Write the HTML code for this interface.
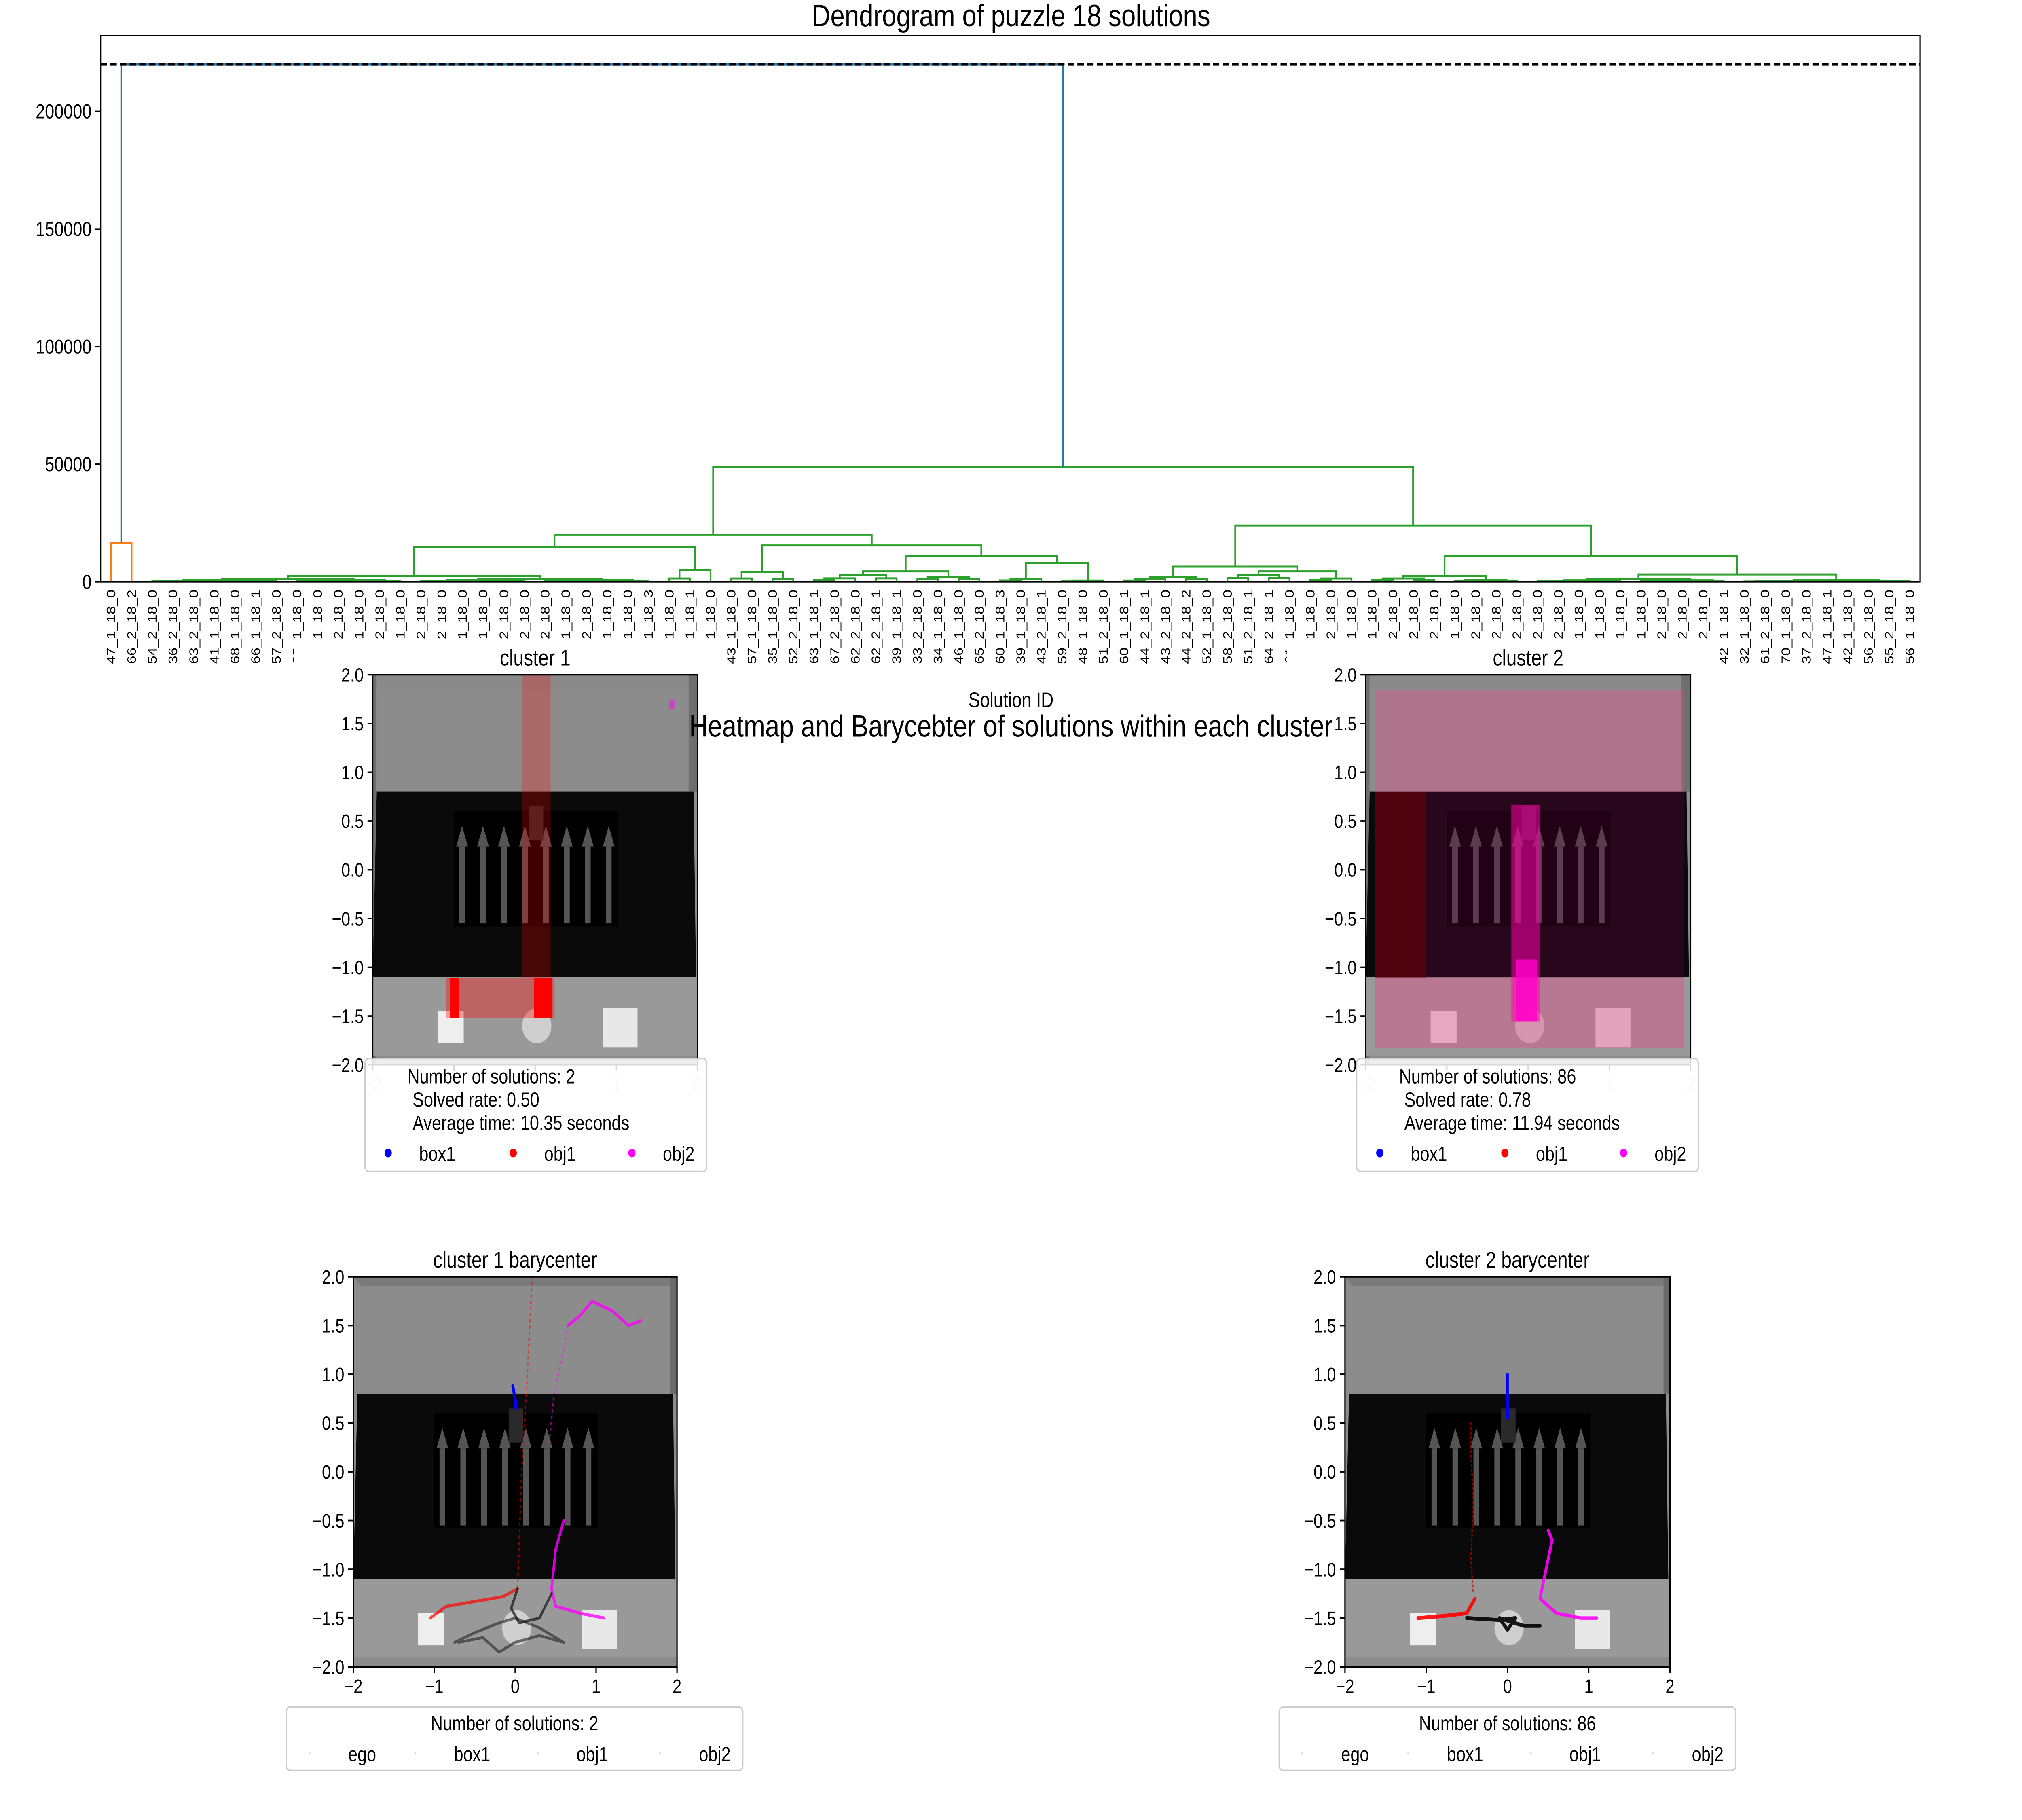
<!DOCTYPE html>
<html><head><meta charset="utf-8">
<style>
html,body{margin:0;padding:0;background:#fff;width:100%;height:100%;overflow:hidden;}
svg{display:block;position:absolute;left:0;top:0;width:100vw;height:100vh;font-family:"Liberation Sans","DejaVu Sans",sans-serif;}
</style></head>
<body>
<svg id="fig" viewBox="0 0 1568 1176" preserveAspectRatio="none" xmlns="http://www.w3.org/2000/svg">
<rect x="0" y="0" width="1568" height="1176" fill="#fff"/>
<g id="dendro"></g>
<g id="subs"></g>
</svg>
<script>
// ---------- Dendrogram data ----------
const leafLabels = ["47_1_18_0","66_2_18_2","54_2_18_0","36_2_18_0","63_2_18_0","41_1_18_0","68_1_18_0","66_1_18_1","57_2_18_0","65_1_18_0",
"40_1_18_0","38_2_18_0","49_1_18_0","50_2_18_0","45_1_18_0","53_2_18_0","34_2_18_0","58_1_18_0","31_1_18_0","69_2_18_0",
"32_2_18_0","48_2_18_0","67_1_18_0","40_2_18_0","59_1_18_0","64_1_18_0","30_1_18_3","54_1_18_0","36_1_18_1","53_1_18_0",
"43_1_18_0","57_1_18_0","35_1_18_0","52_2_18_0","63_1_18_1","67_2_18_0","62_2_18_0","62_2_18_1","39_1_18_1","33_2_18_0",
"34_1_18_0","46_1_18_0","65_2_18_0","60_1_18_3","39_1_18_0","43_2_18_1","59_2_18_0","48_1_18_0","51_2_18_0","60_1_18_1",
"44_2_18_1","43_2_18_0","44_2_18_2","52_1_18_0","58_2_18_0","51_2_18_1","64_2_18_1","61_1_18_0","33_1_18_0","45_2_18_0",
"38_1_18_0","50_1_18_0","35_2_18_0","68_2_18_0","41_2_18_0","37_1_18_0","46_2_18_0","42_2_18_0","30_2_18_0","31_2_18_0",
"49_2_18_0","62_1_18_0","55_1_18_0","66_1_18_0","69_1_18_0","47_2_18_0","39_2_18_0","70_2_18_0","42_1_18_1","32_1_18_0",
"61_2_18_0","70_1_18_0","37_2_18_0","47_1_18_1","42_1_18_0","56_2_18_0","55_2_18_0","56_1_18_0"];
function N(h,l,r){return {h:h,l:l,r:r};}
function R(a,b,h){return {range:[a,b],h:h};}
const clusterA = N(16500, 0, 1);
const clusterB = N(49000,
  N(20000,
    N(15000, R(2,26,2600), N(5000, R(27,28,1500), 29)),
    N(15500, N(4200, R(30,31,1500), R(32,33,1200)),
      N(11000, N(4500, R(34,38,2800), R(39,42,2000)), N(8000, R(43,45,1200), R(46,48,600))))),
  N(24000,
    N(6500, R(49,53,2000), N(4500, R(54,57,3000), R(58,60,1500))),
    N(11000, N(2600, R(61,64,1500), R(65,68,900)), N(3200, R(69,78,1300), R(79,87,900)))));
const rootHeight = 220000;
const thresholdValue = 220000;
const yTicks = [0,50000,100000,150000,200000];

const NS="http://www.w3.org/2000/svg";
function el(tag,attrs,parent){const e=document.createElementNS(NS,tag);for(const k in attrs)e.setAttribute(k,attrs[k]);parent.appendChild(e);return e;}
function tx(str,attrs,parent){const e=el('text',attrs,parent);e.textContent=str;return e;}

const D=document.getElementById('dendro');
const AX={l:78,r:1489,t:23,b:376};
const nLeaves=leafLabels.length;
const xLeaf=i=>AX.l+(AX.r-AX.l)/nLeaves*(i+0.5);
const yS=v=>AX.b-v*76/50000;

function link(x1,h1,x2,h2,h,color){
  const p=el('path',{d:`M${x1},${yS(h1)} V${yS(h)} H${x2} V${yS(h2)}`,fill:'none',stroke:color,'stroke-width':1.3},D);
  
  
}
function drawNode(n,color){
  if(typeof n==='number') return {x:xLeaf(n),h:0};
  if(n.range) return drawRange(n.range[0],n.range[1],n.h,color);
  const a=drawNode(n.l,color),b=drawNode(n.r,color);
  link(a.x,a.h,b.x,b.h,n.h,color);
  return {x:(a.x+b.x)/2,h:n.h};
}
function drawRange(a,b,h,color){
  if(a===b) return {x:xLeaf(a),h:0};
  const m=Math.floor((a+b)/2);
  const L=drawRange(a,m,h*0.55,color),Rr=drawRange(m+1,b,h*0.55,color);
  link(L.x,L.h,Rr.x,Rr.h,h,color);
  return {x:(L.x+Rr.x)/2,h:h};
}
leafLabels.forEach((s,i)=>{
  const x=xLeaf(i);
  const t=tx(s,{x:0,y:0,'font-size':9.6,'text-anchor':'end',transform:`translate(${x+3.3},381) rotate(-90)`},D);
  
  
});
const ra=drawNode(clusterA,'#ff7f0e');
const rb=drawNode(clusterB,'#2ca02c');
link(ra.x,ra.h,rb.x,rb.h,rootHeight,'#1f77b4');
const th=el('line',{x1:AX.l,x2:AX.r,y1:yS(thresholdValue),y2:yS(thresholdValue),stroke:'#000','stroke-width':1.3,'stroke-dasharray':'5,2.5'},D);


el('rect',{x:AX.l,y:AX.t,width:AX.r-AX.l,height:AX.b-AX.t,fill:'none',stroke:'#000','stroke-width':1,},D);
yTicks.forEach(v=>{
  const y=yS(v);
  el('line',{x1:AX.l-4,x2:AX.l,y1:y,y2:y,stroke:'#000','stroke-width':1},D);
  const t=tx(String(v),{x:AX.l-7,y:y+4.5,'font-size':13,'text-anchor':'end'},D);
  
  
});
tx('Dendrogram of puzzle 18 solutions',{x:784,y:17,'font-size':20,'text-anchor':'middle',},D);

// ---------- Subplots ----------
const S=document.getElementById('subs');
el('rect',{x:228,y:413,width:336,height:360,fill:'#fff',},S);
el('rect',{x:998,y:413,width:336,height:360,fill:'#fff',},S);
tx('Solution ID',{x:784,y:457,'font-size':13.5,'text-anchor':'middle',},S);

function scene(g,x0,y0,w,h,bary){
  const X=v=>x0+(v+2)/4*w, Y=v=>y0+(2-v)/4*h;
  el('rect',{x:x0,y:y0,width:w,height:h,fill:'#8c8c8c'},g);
  if(bary){
    el('polygon',{points:`${x0},${y0} ${x0+w},${y0} ${x0+w-6},${y0+6} ${x0+6},${y0+6}`,fill:'#7a7a7a'},g);
    el('rect',{x:x0+w-5,y:y0,width:5,height:Y(0.8)-y0,fill:'#6a6a6a'},g);
  } else {
    el('rect',{x:x0+2,y:y0,width:w-4,height:10,fill:'#8a8a8a'},g);
    el('rect',{x:x0+w-7,y:y0,width:7,height:Y(0.8)-y0,fill:'#6e6e6e'},g);
    el('rect',{x:x0,y:y0,width:3,height:h,fill:'#6e6e6e'},g);
  }
  el('polygon',{points:`${X(-1.95)},${Y(0.8)} ${X(1.95)},${Y(0.8)} ${X(1.98)},${Y(-1.1)} ${X(-2)},${Y(-1.1)}`,fill:'#0a0a0a'},g);
  el('rect',{x:X(-2),y:Y(-1.1),width:w,height:Y(-2)-Y(-1.1)-6,fill:'#999'},g);
  el('rect',{x:X(-1.0),y:Y(0.6),width:X(1.02)-X(-1.0),height:Y(-0.58)-Y(0.6),fill:'#000'},g);
  for(let k=0;k<8;k++){
    const cx=X(-0.9+k*0.258);
    el('rect',{x:cx-2.2,y:Y(0.24),width:4.4,height:Y(-0.55)-Y(0.24),fill:'#555'},g);
    el('polygon',{points:`${cx-4.5},${Y(0.24)} ${cx+4.5},${Y(0.24)} ${cx},${Y(0.45)}`,fill:'#555'},g);
  }
  el('rect',{x:X(-0.08),y:Y(0.65),width:X(0.1)-X(-0.08),height:Y(0.3)-Y(0.65),fill:'#2a2a2a'},g);
  el('rect',{x:X(-1.2),y:Y(-1.45),width:X(-0.88)-X(-1.2),height:Y(-1.78)-Y(-1.45),fill:'#eee'},g);
  el('rect',{x:X(0.83),y:Y(-1.42),width:X(1.26)-X(0.83),height:Y(-1.82)-Y(-1.42),fill:'#e8e8e8'},g);
  el('circle',{cx:X(0.02),cy:Y(-1.6),r:(X(0.18)-X(0)),fill:'#cfcfcf'},g);
}
function axes(g,x0,y0,w,h,title,fullX){
  el('rect',{x:x0,y:y0,width:w,height:h,fill:'none',stroke:'#000','stroke-width':1},g);
  const t=tx(title,{x:x0+w/2,y:y0-6,'font-size':14.5,'text-anchor':'middle'},g);
  
  
  const yt=[2.0,1.5,1.0,0.5,0.0,-0.5,-1.0,-1.5,-2.0];
  yt.forEach(v=>{const y=y0+(2-v)/4*h;
    el('line',{x1:x0-4,x2:x0,y1:y,y2:y,stroke:'#000'},g);
    const l=tx((v<0?'\u2212':'')+Math.abs(v).toFixed(1),{x:x0-7,y:y+4.5,'font-size':12.5,'text-anchor':'end'},g);
    
    
  });
  [-2,-1,0,1,2].forEach(v=>{const x=x0+(v+2)/4*w;
    el('line',{x1:x,x2:x,y1:y0+h,y2:y0+h+4,stroke:'#000'},g);
    const l=tx((v<0?'\u2212':'')+Math.abs(v),{x:x,y:y0+h+17,'font-size':12.5,'text-anchor':'middle',fill:fullX?'#000':'#ccc'},g);
    
    
  });
}
function heatLegend(g,x0,y0,n,rate,time){
  el('rect',{x:x0,y:y0,width:265,height:73,rx:3,fill:'#fff','fill-opacity':0.85,stroke:'#ccc'},g);
  tx('Number of solutions: '+n,{x:x0+33,y:y0+16,'font-size':13},g);
  tx('Solved rate: '+rate,{x:x0+37,y:y0+31,'font-size':13},g);
  tx('Average time: '+time+' seconds',{x:x0+37,y:y0+46,'font-size':13},g);
  [['box1','#00f',18],['obj1','#f00',115],['obj2','#f0f',207]].forEach(([s,c,dx])=>{
    el('circle',{cx:x0+dx,cy:y0+61,r:2.8,fill:c},g);
    const t=tx(s,{x:x0+dx+24,y:y0+66,'font-size':13},g);
    
    
  });
}
function baryLegend(g,x0,y0,n){
  el('rect',{x:x0,y:y0,width:354,height:41,rx:3,fill:'#fff',stroke:'#ccc'},g);
  tx('Number of solutions: '+n,{x:x0+177,y:y0+15,'font-size':13,'text-anchor':'middle'},g);
  [['ego',18],['box1',100],['obj1',195],['obj2',290]].forEach(([s,dx])=>{
    el('circle',{cx:x0+dx,cy:y0+30,r:0.8,fill:'#ddd'},g);
    const t=tx(s,{x:x0+dx+30,y:y0+35,'font-size':13},g);
    
    
  });
}
function path(g,x0,y0,w,h,pts,color,sw,op,dash){
  const X=v=>x0+(v+2)/4*w, Y=v=>y0+(2-v)/4*h;
  const a={points:pts.map(p=>X(p[0])+','+Y(p[1])).join(' '),fill:'none',stroke:color,'stroke-width':sw,'stroke-opacity':op,'stroke-linecap':'round','stroke-linejoin':'round'};
  if(dash)a['stroke-dasharray']=dash;
  el('polyline',a,g);
}

// Cluster 1 heatmap
let g=el('g',{},S);
scene(g,289,436,252,252,false);
el('rect',{x:405,y:436,width:22,height:196,fill:'#f00','fill-opacity':0.25},g);
el('rect',{x:346,y:632,width:84,height:26,fill:'#f00','fill-opacity':0.35},g);
el('rect',{x:349,y:632,width:7,height:26,fill:'#f00'},g);
el('rect',{x:414,y:632,width:14,height:26,fill:'#f00'},g);
el('rect',{x:519,y:452,width:4,height:6,fill:'#f0f','fill-opacity':0.5},g);
axes(g,289,436,252,252,'cluster 1',false);
heatLegend(g,283,684,2,'0.50','10.35');

// Cluster 2 heatmap
g=el('g',{},S);
scene(g,1059,436,252,252,false);
el('rect',{x:1066,y:446,width:240,height:66,fill:'#e0508a','fill-opacity':0.4},g);
el('rect',{x:1066,y:512,width:240,height:120,fill:'#70004a','fill-opacity':0.3},g);
el('rect',{x:1066,y:512,width:40,height:120,fill:'#800000','fill-opacity':0.45},g);
el('rect',{x:1066,y:632,width:240,height:45,fill:'#e0508a','fill-opacity':0.45},g);
el('rect',{x:1172,y:520,width:22,height:140,fill:'#f0a','fill-opacity':0.55},g);
el('rect',{x:1176,y:620,width:16,height:40,fill:'#f0c','fill-opacity':0.8},g);
axes(g,1059,436,252,252,'cluster 2',false);
heatLegend(g,1052,684,86,'0.78','11.94');

tx('Heatmap and Barycebter of solutions within each cluster',{x:784,y:476,'font-size':20,'text-anchor':'middle',},S);

// Cluster 1 barycenter
g=el('g',{},S);
scene(g,274,825,251,252,true);
path(g,274,825,251,252,[[0.21,2],[0.15,1],[0.08,0],[0.03,-1.18]],'#f00',1.2,0.5,'1,3');
path(g,274,825,251,252,[[0.42,0.3],[0.48,0.8],[0.6,1.25],[0.65,1.5]],'#f0f',1.2,0.5,'1,3');
path(g,274,825,251,252,[[0.65,1.5],[0.8,1.6],[0.95,1.75],[1.2,1.65],[1.4,1.5],[1.55,1.55]],'#f0f',2,0.8);
path(g,274,825,251,252,[[-0.03,0.88],[0,0.75],[0.01,0.65]],'#00f',2.2,1);
path(g,274,825,251,252,[[-1.05,-1.5],[-0.85,-1.38],[-0.5,-1.33],[-0.15,-1.28],[0.03,-1.2]],'#f00',2,0.7);
path(g,274,825,251,252,[[0.6,-0.5],[0.5,-0.8],[0.45,-1.2],[0.5,-1.38],[0.8,-1.45],[1.1,-1.5]],'#f0f',2,0.8);
path(g,274,825,251,252,[[-0.75,-1.75],[-0.5,-1.65],[-0.2,-1.55],[0,-1.5],[0.3,-1.6],[0.6,-1.75],[0.3,-1.68],[0,-1.75],[-0.2,-1.85],[-0.4,-1.7],[-0.7,-1.75]],'#222',1.8,0.6);
path(g,274,825,251,252,[[0.03,-1.2],[-0.05,-1.4],[0.05,-1.55],[0.3,-1.5],[0.45,-1.25]],'#111',1.8,0.7);
axes(g,274,825,251,252,'cluster 1 barycenter',true);
baryLegend(g,222,1103,2);

// Cluster 2 barycenter
g=el('g',{},S);
scene(g,1043,825,252,252,true);
path(g,1043,825,252,252,[[0,1.0],[0,0.8],[0,0.55]],'#00f',2,1);
path(g,1043,825,252,252,[[-0.45,0.5],[-0.45,0.2],[-0.42,-0.3],[-0.45,-0.9],[-0.42,-1.25]],'#c00',1.2,0.6,'1,2');
path(g,1043,825,252,252,[[-1.1,-1.5],[-0.8,-1.48],[-0.5,-1.45],[-0.4,-1.3]],'#f00',2.5,0.9);
path(g,1043,825,252,252,[[-0.5,-1.5],[-0.1,-1.52],[0.1,-1.5],[0.0,-1.62],[-0.1,-1.5],[0.2,-1.58],[0.4,-1.58]],'#000',2.5,0.9);
path(g,1043,825,252,252,[[0.5,-0.6],[0.55,-0.7],[0.45,-1.1],[0.4,-1.3],[0.6,-1.45],[0.9,-1.5],[1.1,-1.5]],'#f0f',2.2,0.9);
axes(g,1043,825,252,252,'cluster 2 barycenter',true);
baryLegend(g,992,1103,86);
</script>
</body></html>
